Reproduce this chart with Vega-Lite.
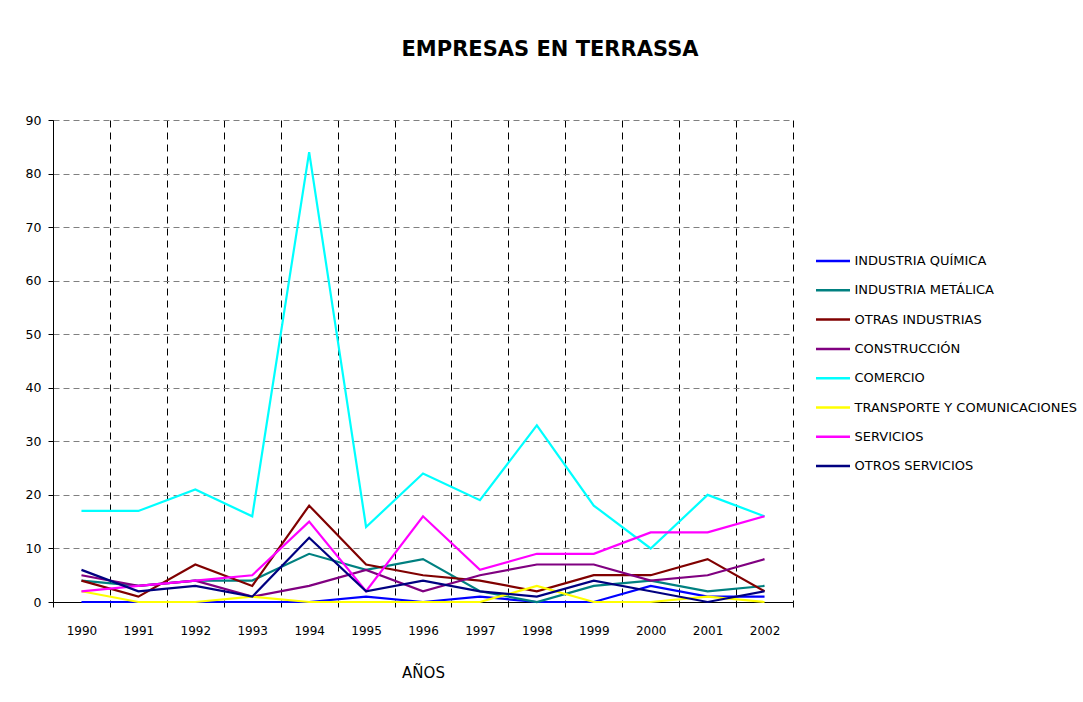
{
  "$schema": "https://vega.github.io/schema/vega-lite/v6.json",
  "width": 740,
  "height": 482,
  "autosize": {"type": "none"},
  "padding": {"left": 53, "top": 120, "right": 290, "bottom": 100},
  "background": "white",
  "title": {
    "text": "EMPRESAS EN TERRASSA",
    "fontSize": 21,
    "fontWeight": "bold",
    "font": "DejaVu Sans",
    "color": "black",
    "anchor": "middle",
    "frame": "group",
    "dx": 127,
    "baseline": "alphabetic",
    "offset": 37
  },
  "data": {
    "values": [
      {"year": "1990", "sector": "INDUSTRIA QUÍMICA", "value": 0},
      {"year": "1991", "sector": "INDUSTRIA QUÍMICA", "value": 0},
      {"year": "1992", "sector": "INDUSTRIA QUÍMICA", "value": 0},
      {"year": "1993", "sector": "INDUSTRIA QUÍMICA", "value": 0},
      {"year": "1994", "sector": "INDUSTRIA QUÍMICA", "value": 0},
      {"year": "1995", "sector": "INDUSTRIA QUÍMICA", "value": 1},
      {"year": "1996", "sector": "INDUSTRIA QUÍMICA", "value": 0},
      {"year": "1997", "sector": "INDUSTRIA QUÍMICA", "value": 1},
      {"year": "1998", "sector": "INDUSTRIA QUÍMICA", "value": 0},
      {"year": "1999", "sector": "INDUSTRIA QUÍMICA", "value": 0},
      {"year": "2000", "sector": "INDUSTRIA QUÍMICA", "value": 3},
      {"year": "2001", "sector": "INDUSTRIA QUÍMICA", "value": 1},
      {"year": "2002", "sector": "INDUSTRIA QUÍMICA", "value": 1},

      {"year": "1990", "sector": "INDUSTRIA METÁLICA", "value": 4},
      {"year": "1991", "sector": "INDUSTRIA METÁLICA", "value": 3},
      {"year": "1992", "sector": "INDUSTRIA METÁLICA", "value": 4},
      {"year": "1993", "sector": "INDUSTRIA METÁLICA", "value": 4},
      {"year": "1994", "sector": "INDUSTRIA METÁLICA", "value": 9},
      {"year": "1995", "sector": "INDUSTRIA METÁLICA", "value": 6},
      {"year": "1996", "sector": "INDUSTRIA METÁLICA", "value": 8},
      {"year": "1997", "sector": "INDUSTRIA METÁLICA", "value": 2},
      {"year": "1998", "sector": "INDUSTRIA METÁLICA", "value": 0},
      {"year": "1999", "sector": "INDUSTRIA METÁLICA", "value": 3},
      {"year": "2000", "sector": "INDUSTRIA METÁLICA", "value": 4},
      {"year": "2001", "sector": "INDUSTRIA METÁLICA", "value": 2},
      {"year": "2002", "sector": "INDUSTRIA METÁLICA", "value": 3},

      {"year": "1990", "sector": "OTRAS INDUSTRIAS", "value": 4},
      {"year": "1991", "sector": "OTRAS INDUSTRIAS", "value": 1},
      {"year": "1992", "sector": "OTRAS INDUSTRIAS", "value": 7},
      {"year": "1993", "sector": "OTRAS INDUSTRIAS", "value": 3},
      {"year": "1994", "sector": "OTRAS INDUSTRIAS", "value": 18},
      {"year": "1995", "sector": "OTRAS INDUSTRIAS", "value": 7},
      {"year": "1996", "sector": "OTRAS INDUSTRIAS", "value": 5},
      {"year": "1997", "sector": "OTRAS INDUSTRIAS", "value": 4},
      {"year": "1998", "sector": "OTRAS INDUSTRIAS", "value": 2},
      {"year": "1999", "sector": "OTRAS INDUSTRIAS", "value": 5},
      {"year": "2000", "sector": "OTRAS INDUSTRIAS", "value": 5},
      {"year": "2001", "sector": "OTRAS INDUSTRIAS", "value": 8},
      {"year": "2002", "sector": "OTRAS INDUSTRIAS", "value": 2},

      {"year": "1990", "sector": "CONSTRUCCIÓN", "value": 5},
      {"year": "1991", "sector": "CONSTRUCCIÓN", "value": 3},
      {"year": "1992", "sector": "CONSTRUCCIÓN", "value": 4},
      {"year": "1993", "sector": "CONSTRUCCIÓN", "value": 1},
      {"year": "1994", "sector": "CONSTRUCCIÓN", "value": 3},
      {"year": "1995", "sector": "CONSTRUCCIÓN", "value": 6},
      {"year": "1996", "sector": "CONSTRUCCIÓN", "value": 2},
      {"year": "1997", "sector": "CONSTRUCCIÓN", "value": 5},
      {"year": "1998", "sector": "CONSTRUCCIÓN", "value": 7},
      {"year": "1999", "sector": "CONSTRUCCIÓN", "value": 7},
      {"year": "2000", "sector": "CONSTRUCCIÓN", "value": 4},
      {"year": "2001", "sector": "CONSTRUCCIÓN", "value": 5},
      {"year": "2002", "sector": "CONSTRUCCIÓN", "value": 8},

      {"year": "1990", "sector": "COMERCIO", "value": 17},
      {"year": "1991", "sector": "COMERCIO", "value": 17},
      {"year": "1992", "sector": "COMERCIO", "value": 21},
      {"year": "1993", "sector": "COMERCIO", "value": 16},
      {"year": "1994", "sector": "COMERCIO", "value": 84},
      {"year": "1995", "sector": "COMERCIO", "value": 14},
      {"year": "1996", "sector": "COMERCIO", "value": 24},
      {"year": "1997", "sector": "COMERCIO", "value": 19},
      {"year": "1998", "sector": "COMERCIO", "value": 33},
      {"year": "1999", "sector": "COMERCIO", "value": 18},
      {"year": "2000", "sector": "COMERCIO", "value": 10},
      {"year": "2001", "sector": "COMERCIO", "value": 20},
      {"year": "2002", "sector": "COMERCIO", "value": 16},

      {"year": "1990", "sector": "TRANSPORTE Y COMUNICACIONES", "value": 2},
      {"year": "1991", "sector": "TRANSPORTE Y COMUNICACIONES", "value": 0},
      {"year": "1992", "sector": "TRANSPORTE Y COMUNICACIONES", "value": 0},
      {"year": "1993", "sector": "TRANSPORTE Y COMUNICACIONES", "value": 1},
      {"year": "1994", "sector": "TRANSPORTE Y COMUNICACIONES", "value": 0},
      {"year": "1995", "sector": "TRANSPORTE Y COMUNICACIONES", "value": 0},
      {"year": "1996", "sector": "TRANSPORTE Y COMUNICACIONES", "value": 0},
      {"year": "1997", "sector": "TRANSPORTE Y COMUNICACIONES", "value": 0},
      {"year": "1998", "sector": "TRANSPORTE Y COMUNICACIONES", "value": 3},
      {"year": "1999", "sector": "TRANSPORTE Y COMUNICACIONES", "value": 0},
      {"year": "2000", "sector": "TRANSPORTE Y COMUNICACIONES", "value": 0},
      {"year": "2001", "sector": "TRANSPORTE Y COMUNICACIONES", "value": 1},
      {"year": "2002", "sector": "TRANSPORTE Y COMUNICACIONES", "value": 0},

      {"year": "1990", "sector": "SERVICIOS", "value": 2},
      {"year": "1991", "sector": "SERVICIOS", "value": 3},
      {"year": "1992", "sector": "SERVICIOS", "value": 4},
      {"year": "1993", "sector": "SERVICIOS", "value": 5},
      {"year": "1994", "sector": "SERVICIOS", "value": 15},
      {"year": "1995", "sector": "SERVICIOS", "value": 2},
      {"year": "1996", "sector": "SERVICIOS", "value": 16},
      {"year": "1997", "sector": "SERVICIOS", "value": 6},
      {"year": "1998", "sector": "SERVICIOS", "value": 9},
      {"year": "1999", "sector": "SERVICIOS", "value": 9},
      {"year": "2000", "sector": "SERVICIOS", "value": 13},
      {"year": "2001", "sector": "SERVICIOS", "value": 13},
      {"year": "2002", "sector": "SERVICIOS", "value": 16},

      {"year": "1990", "sector": "OTROS SERVICIOS", "value": 6},
      {"year": "1991", "sector": "OTROS SERVICIOS", "value": 2},
      {"year": "1992", "sector": "OTROS SERVICIOS", "value": 3},
      {"year": "1993", "sector": "OTROS SERVICIOS", "value": 1},
      {"year": "1994", "sector": "OTROS SERVICIOS", "value": 12},
      {"year": "1995", "sector": "OTROS SERVICIOS", "value": 2},
      {"year": "1996", "sector": "OTROS SERVICIOS", "value": 4},
      {"year": "1997", "sector": "OTROS SERVICIOS", "value": 2},
      {"year": "1998", "sector": "OTROS SERVICIOS", "value": 1},
      {"year": "1999", "sector": "OTROS SERVICIOS", "value": 4},
      {"year": "2000", "sector": "OTROS SERVICIOS", "value": 2},
      {"year": "2001", "sector": "OTROS SERVICIOS", "value": 0},
      {"year": "2002", "sector": "OTROS SERVICIOS", "value": 2}
    ]
  },
  "mark": {"type": "line", "strokeWidth": 2.2},
  "encoding": {
    "x": {
      "field": "year",
      "type": "ordinal",
      "scale": {"type": "band", "paddingInner": 0, "paddingOuter": 0},
      "axis": {
        "title": "AÑOS",
        "labelAngle": 0,
        "tickBand": "extent",
        "grid": true,
        "gridColor": "black",
        "gridDash": [7, 5],
        "gridWidth": 1,
        "domainColor": "black",
        "tickColor": "black",
        "tickSize": 5,
        "labelPadding": 18,
        "labelFontSize": 12,
        "labelColor": "black",
        "titleFontSize": 15,
        "titleFontWeight": "normal",
        "titleColor": "black",
        "titlePadding": 29
      }
    },
    "y": {
      "field": "value",
      "type": "quantitative",
      "scale": {"domain": [0, 90], "nice": false},
      "axis": {
        "title": null,
        "values": [0, 10, 20, 30, 40, 50, 60, 70, 80, 90],
        "grid": true,
        "gridColor": "#808080",
        "gridDash": [6, 4],
        "gridWidth": 1,
        "domainColor": "black",
        "tickColor": "black",
        "tickSize": 5,
        "labelPadding": 7,
        "labelFontSize": 12.5,
        "labelColor": "black"
      }
    },
    "color": {
      "field": "sector",
      "type": "nominal",
      "scale": {
        "domain": ["INDUSTRIA QUÍMICA", "INDUSTRIA METÁLICA", "OTRAS INDUSTRIAS", "CONSTRUCCIÓN", "COMERCIO", "TRANSPORTE Y COMUNICACIONES", "SERVICIOS", "OTROS SERVICIOS"],
        "range": ["#0000FF", "#008080", "#800000", "#800080", "#00FFFF", "#FFFF00", "#FF00FF", "#000080"]
      },
      "legend": {
        "title": null,
        "orient": "none",
        "legendX": 770,
        "legendY": 131,
        "padding": 0,
        "symbolType": "M-2,0H2",
        "symbolSize": 289,
        "symbolStrokeWidth": 2.5,
        "symbolFillColor": "transparent",
        "labelOffset": 11.5,
        "labelFontSize": 13,
        "labelColor": "black",
        "labelLimit": 400,
        "rowPadding": 12.3
      }
    }
  },
  "config": {
    "font": "DejaVu Sans",
    "view": {"stroke": null}
  }
}
